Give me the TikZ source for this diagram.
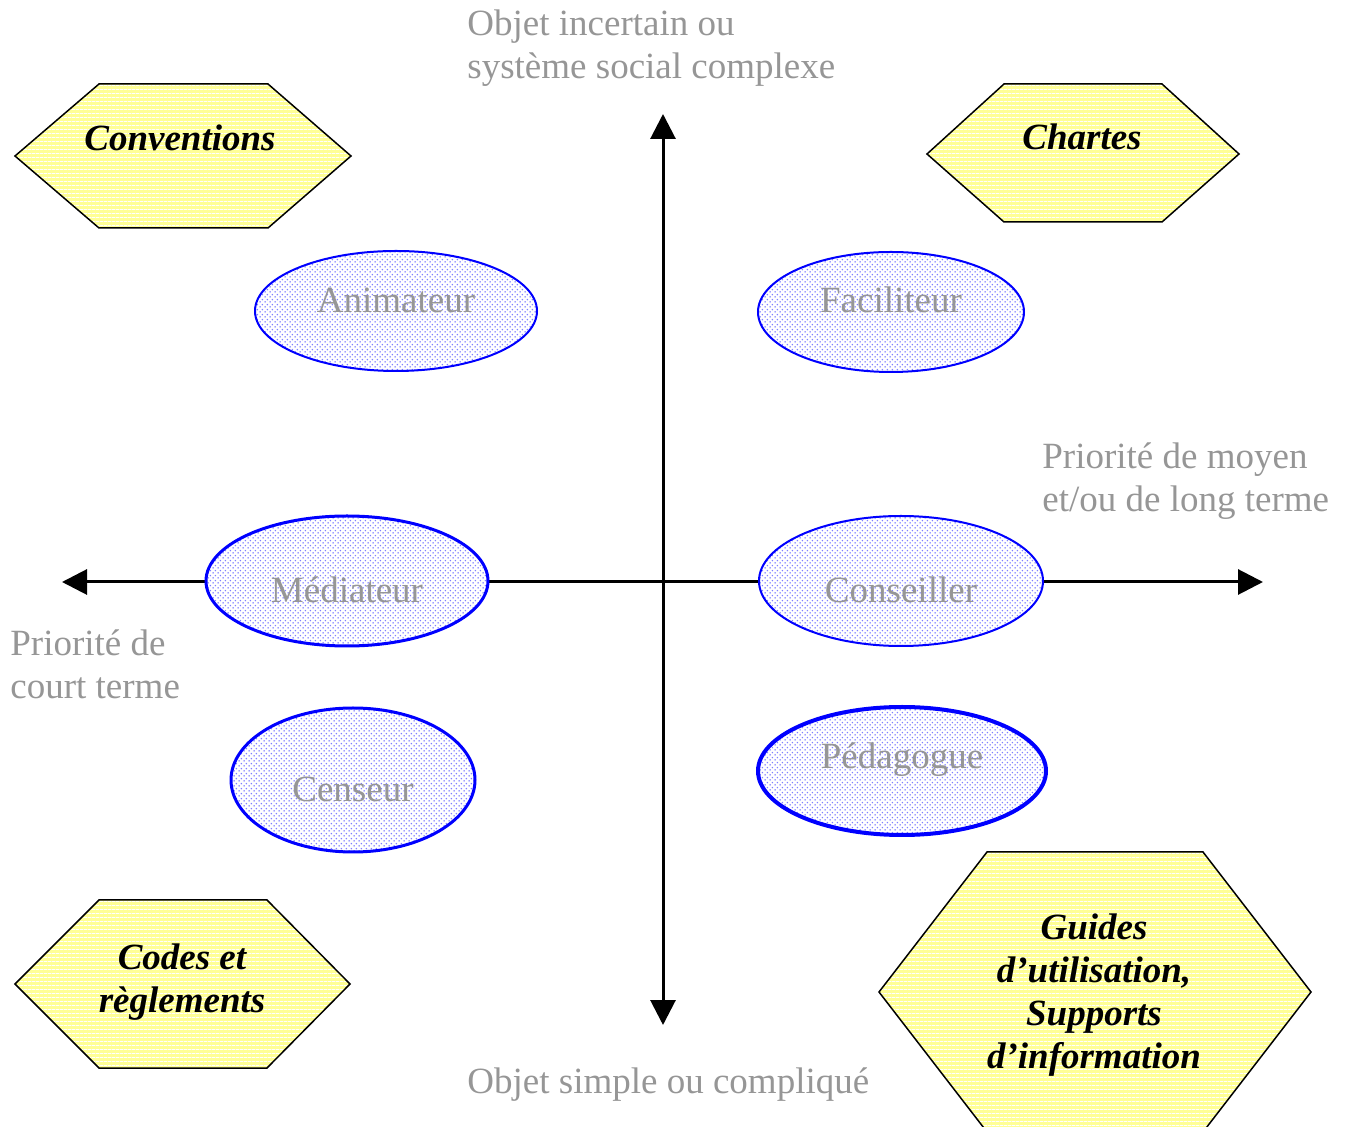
\documentclass[tikz,border=0pt]{standalone}
\usepackage{fontspec}
\setmainfont{Liberation Serif}
\usetikzlibrary{arrows.meta,shapes.geometric,patterns.meta}

\definecolor{txtgray}{RGB}{150,150,150}
\definecolor{hexyellow}{RGB}{255,255,150}

% thin white horizontal stripes laid over the yellow hexagons
\tikzdeclarepattern{
  name=hstripes,
  type=uncolored,
  bounding box={(0pt,0pt) and (2pt,2pt)},
  tile size={(2pt,2pt)},
  code={\draw[line width=0.45pt] (-0.1pt,1pt) -- (2.1pt,1pt);}
}
% staggered fine dots inside the role ellipses
\tikzdeclarepattern{
  name=fdots,
  type=uncolored,
  bounding box={(0pt,0pt) and (2.6pt,2.6pt)},
  tile size={(2.6pt,2.6pt)},
  code={\fill (0.65pt,0.65pt) circle[radius=0.45pt];
        \fill (1.95pt,1.95pt) circle[radius=0.45pt];}
}

\tikzset{
  every node/.style={font=\fontsize{18.5}{21.5}\selectfont},
  axis/.style={line width=1.5pt, {Triangle[length=12.5pt,width=12.5pt]}-{Triangle[length=12.5pt,width=12.5pt]}},
  hexa/.style={draw=black, line width=0.75pt, line join=miter,
    preaction={fill=hexyellow}, pattern=hstripes, pattern color=white},
  hexlabel/.style={font=\fontsize{18.5}{21.5}\selectfont\bfseries\itshape, align=center, inner sep=0pt},
  role/.style={ellipse, draw=blue, inner sep=0pt,
    preaction={fill=white}, pattern=fdots, pattern color=blue!50},
  rolelabel/.style={text=txtgray, inner sep=0pt},
  axislabel/.style={text=txtgray, align=left, inner sep=0pt, anchor=base west},
}

\begin{document}
\begin{tikzpicture}[x=0.5pt,y=-0.5pt]
\useasboundingbox (0,0) rectangle (1350,1127);
\clip (0,0) rectangle (1350,1127);

% axes
\coordinate (top) at (663,114);
\coordinate (bottom) at (663,1025);
\coordinate (left) at (62,582);
\coordinate (right) at (1263,582);
\draw[axis] (left) -- (right);
\draw[axis] (bottom) -- (top);

% axis captions (anchored on the baseline of their last line)
\node[axislabel] (ytop) at (467,79) {Objet incertain ou\\système social complexe};
\node[axislabel] (ybot) at (467,1093) {Objet simple ou compliqué};
\node[axislabel] (xright) at (1042,512) {Priorité de moyen\\et/ou de long terme};
\node[axislabel] (xleft) at (10,699) {Priorité de\\court terme};

% role ellipses
\node[role, line width=1pt, minimum width=141pt, minimum height=60pt] (anim) at (396,311) {};
\node[role, line width=1pt, minimum width=133pt, minimum height=60pt] (facil) at (891,312) {};
\node[role, line width=1.5pt, minimum width=141pt, minimum height=65pt] (media) at (347,581) {};
\node[role, line width=1pt, minimum width=142pt, minimum height=65pt] (conse) at (901,581) {};
\node[role, line width=1.5pt, minimum width=122pt, minimum height=72pt] (cens) at (353,780) {};
\node[role, line width=2pt, minimum width=144pt, minimum height=64pt] (peda) at (902,771) {};

\node[rolelabel] (anim-t) at (396,300) {Animateur};
\node[rolelabel] (facil-t) at (891,300) {Faciliteur};
\node[rolelabel] (media-t) at (347,590) {Médiateur};
\node[rolelabel] (conse-t) at (901,590) {Conseiller};
\node[rolelabel] (cens-t) at (353,789) {Censeur};
\node[rolelabel] (peda-t) at (902,760) {Pédagogue};

% instrument hexagons
\draw[hexa] (15,156) -- (99,84) -- (268,84) -- (351,156) -- (268,228) -- (99,228) -- cycle;
\node[hexlabel] (conv) at (180,138) {Conventions};

\draw[hexa] (927,154) -- (1004,84) -- (1162,84) -- (1239,154) -- (1162,222) -- (1004,222) -- cycle;
\node[hexlabel] (chart) at (1082,137) {Chartes};

\draw[hexa] (15,984) -- (99,900) -- (267,900) -- (350,984) -- (267,1068) -- (99,1068) -- cycle;
\node[hexlabel] (codes) at (182,982) {Codes et\\règlements};

\draw[hexa] (879,992) -- (987,852) -- (1203,852) -- (1311,992) -- (1203,1132) -- (987,1132) -- cycle;
\node[hexlabel] (guides) at (1094,995) {Guides\\d’utilisation,\\Supports\\d’information};
\end{tikzpicture}
\end{document}
